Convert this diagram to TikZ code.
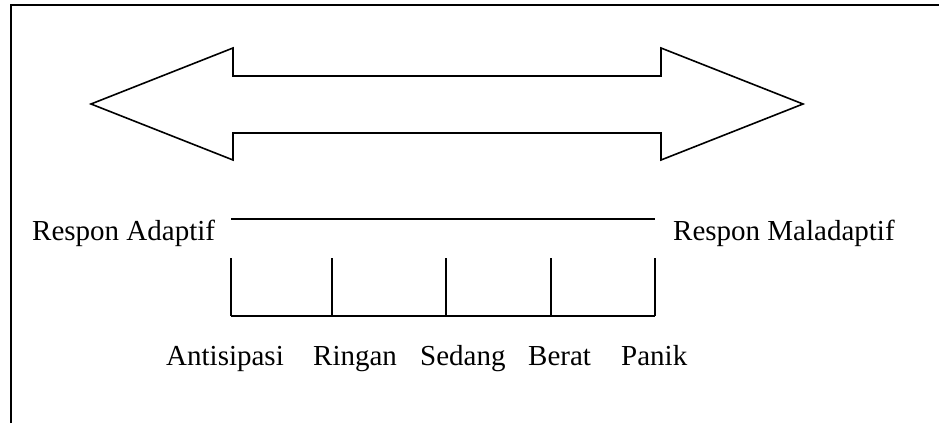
\documentclass[tikz,border=0pt]{standalone}
\usepackage{fontspec}
\setmainfont{Liberation Serif}
\begin{document}
\begin{tikzpicture}[x=1pt,y=-1pt,
  line/.style={line width=1.6pt,line join=miter},
  lbl/.style={anchor=base west,inner sep=0pt,font=\fontsize{29}{34}\selectfont}]
\useasboundingbox (0,0) rectangle (939,423);
% frame
\draw[line] (11,423) -- (11,5) -- (939,5);
% double arrow
\draw[line] (91,104) -- (233,48) -- (233,76) -- (661,76) -- (661,48) -- (803,104)
  -- (661,160) -- (661,133) -- (233,133) -- (233,160) -- cycle;
% scale
\coordinate (t1) at (231,258); \coordinate (b1) at (231,316);
\coordinate (t2) at (332,258); \coordinate (b2) at (332,316);
\coordinate (t3) at (446,258); \coordinate (b3) at (446,316);
\coordinate (t4) at (551,258); \coordinate (b4) at (551,316);
\coordinate (t5) at (655,258); \coordinate (b5) at (655,316);
\coordinate (l1) at (231,219); \coordinate (l2) at (655,219);
\draw[line] (l1) -- (l2);
\draw[line] (b1) -- (b5);
\foreach \i in {1,...,5} \draw[line] (t\i) -- (b\i);
% labels
\node[lbl] (ra) at (32,240) {Respon Adaptif};
\node[lbl] (rm) at (673,240) {Respon Maladaptif};
\node[lbl] (an) at (166,365) {Antisipasi};
\node[lbl] (ri) at (313,365) {Ringan};
\node[lbl] (se) at (420,365) {Sedang};
\node[lbl] (be) at (528,365) {Berat};
\node[lbl] (pa) at (621,365) {Panik};
\end{tikzpicture}
\end{document}
